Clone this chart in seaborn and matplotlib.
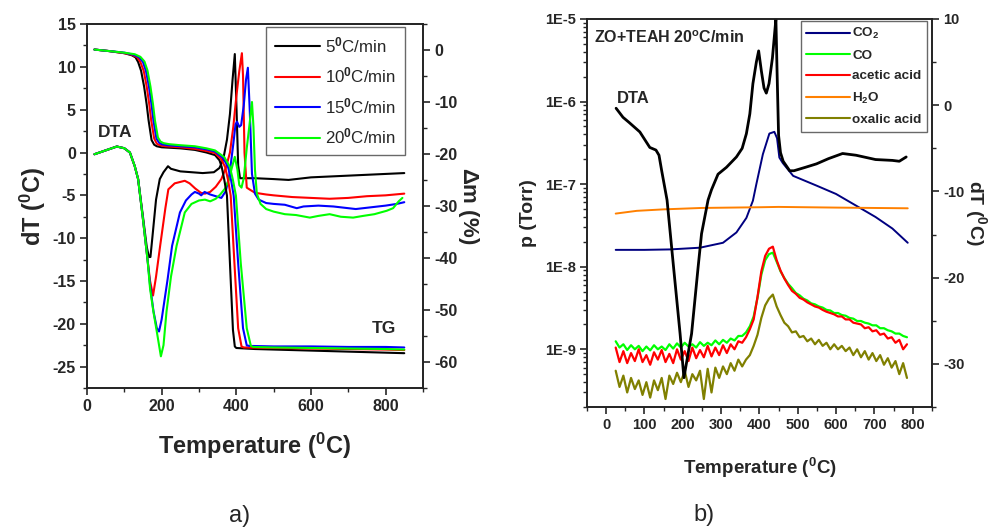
import numpy as np
import pandas as pd
import matplotlib
matplotlib.use("Agg")
import matplotlib.pyplot as plt
import seaborn as sns
from matplotlib.ticker import MultipleLocator, FixedLocator, FuncFormatter, LogLocator, NullFormatter
from matplotlib.lines import Line2D

# ---------------- Panel a data ----------------
rate_labels = [r"5$^{\mathbf{0}}$C/min", r"10$^{\mathbf{0}}$C/min",
               r"15$^{\mathbf{0}}$C/min", r"20$^{\mathbf{0}}$C/min"]
rate_colors = ["#000000", "#ff0000", "#0000ff", "#00ff00"]

# DTA (left axis, dT in C)
dta5_T = [20, 40, 60, 80, 100, 115, 128, 137, 150, 160, 166, 170, 175, 185, 195, 205, 217, 225, 250,
          280, 310, 340, 355, 365, 375, 383, 390, 396, 400, 405, 410, 450, 500, 540, 600, 650, 700, 750, 800, 850]
dta5_V = [-0.2, 0.1, 0.4, 0.7, 0.5, 0.0, -1.6, -3.1, -7.5, -11.0, -12.2, -12.2, -10.0, -5.5, -3.1, -2.3, -1.6, -1.9, -2.2,
          -2.3, -2.4, -2.3, -1.8, -0.8, 1.5, 4.5, 8.5, 11.5, 6.0, -1.5, -3.0, -3.0, -3.1, -3.2, -2.9, -2.8, -2.7, -2.6, -2.5, -2.4]

dta10_T = [20, 40, 60, 80, 100, 115, 128, 137, 150, 162, 169, 177, 185, 196, 210, 218, 235, 262, 275, 290, 305,
           316, 330, 345, 360, 372, 383, 392, 400, 408, 415, 418, 422, 428, 435, 450, 480, 500, 550, 600, 650, 700, 750, 800, 850]
dta10_V = [-0.2, 0.1, 0.4, 0.7, 0.5, 0.0, -1.6, -3.1, -7.8, -12.4, -15.0, -16.7, -14.5, -10.9, -6.5, -4.3, -3.6, -3.3, -3.6, -4.2, -4.7,
           -4.8, -4.6, -4.0, -3.1, -1.8, 0.0, 3.0, 6.5, 9.5, 11.6, 9.0, 0.0, -4.1, -4.3, -4.7, -4.9, -5.0, -5.2, -5.3, -5.4, -5.3, -5.1, -5.0, -4.8]

dta15_T = [20, 40, 60, 80, 100, 115, 128, 137, 150, 162, 169, 178, 187, 193, 200, 216, 228, 249, 265, 280, 289, 300,
           306, 315, 330, 345, 360, 372, 382, 392, 398, 402, 408, 413, 420, 426, 431, 436, 442, 450, 460, 480, 500,
           530, 562, 580, 620, 660, 700, 720, 760, 800, 830, 850]
dta15_V = [-0.2, 0.1, 0.4, 0.7, 0.5, 0.0, -1.6, -3.1, -7.8, -12.4, -15.5, -18.5, -20.5, -20.9, -19.5, -14.8, -10.9, -7.0, -5.6, -4.9, -4.6, -4.8,
           -5.0, -4.6, -4.9, -5.1, -5.3, -4.5, -2.5, 1.0, 3.3, 3.6, 3.0, 3.2, 5.5, 8.5, 9.9, 5.0, -2.5, -4.8, -5.5, -5.9, -6.0,
           -6.1, -6.5, -6.3, -6.2, -6.3, -6.5, -6.6, -6.4, -6.2, -6.0, -5.8]

dta20_T = [20, 40, 60, 80, 100, 115, 128, 137, 150, 162, 169, 178, 187, 198, 205, 213, 225, 240, 262, 280, 300, 316,
           330, 345, 357, 370, 380, 388, 396, 403, 408, 414, 420, 428, 436, 442, 446, 450, 455, 465, 480, 500, 530,
           560, 597, 620, 650, 680, 713, 740, 770, 803, 820, 835, 845]
dta20_V = [-0.2, 0.1, 0.4, 0.7, 0.5, 0.0, -1.6, -3.1, -7.8, -12.4, -15.9, -18.6, -20.9, -23.8, -22.5, -18.6, -14.5, -10.9, -7.0, -6.0, -5.6, -5.5,
           -5.7, -5.4, -4.9, -4.2, -3.2, -1.8, -0.5, -2.0, -3.8, -4.1, -3.0, 0.5, 3.5, 5.9, 3.0, -2.0, -4.8, -6.0, -6.6, -6.9, -7.2,
           -7.3, -7.6, -7.4, -7.2, -7.5, -7.6, -7.4, -7.2, -6.8, -6.5, -5.7, -5.3]

# TG (right axis, mass change %)
tg5_T = [20, 60, 100, 120, 130, 137, 145, 153, 160, 165, 173, 180, 187, 200, 250, 289, 320, 343, 355, 361, 368, 375,
         383, 391, 396, 400, 450, 500, 600, 700, 800, 850]
tg5_V = [0.1, -0.2, -0.6, -1.0, -1.4, -2.3, -4.0, -7.0, -10.5, -13.5, -17.3, -18.2, -18.5, -18.7, -18.9, -19.2, -19.7, -20.2, -21.2, -22.5, -25.0, -28.0,
         -41.0, -53.8, -57.0, -57.3, -57.5, -57.6, -57.8, -58.0, -58.2, -58.3]

tg10_T = [20, 60, 100, 120, 135, 143, 152, 160, 167, 172, 180, 187, 195, 210, 250, 289, 320, 343, 360, 370, 378, 385,
          395, 405, 414, 420, 500, 600, 700, 800, 850]
tg10_V = [0.1, -0.2, -0.6, -0.9, -1.4, -2.3, -4.0, -7.0, -10.5, -13.5, -17.0, -18.0, -18.3, -18.5, -18.7, -19.0, -19.4, -19.8, -21.0, -22.5, -25.0, -28.0,
          -41.0, -53.5, -57.0, -57.2, -57.3, -57.4, -57.5, -57.6, -57.7]

tg15_T = [20, 60, 100, 125, 140, 150, 158, 166, 173, 178, 186, 193, 200, 215, 250, 289, 320, 343, 365, 378, 386, 393,
          405, 418, 428, 435, 500, 600, 700, 800, 850]
tg15_V = [0.1, -0.2, -0.5, -0.9, -1.4, -2.3, -4.0, -7.0, -10.5, -13.5, -17.0, -17.8, -18.1, -18.3, -18.5, -18.7, -19.1, -19.5, -20.8, -22.5, -25.0, -28.0,
          -41.0, -53.5, -56.8, -56.9, -57.0, -57.0, -57.1, -57.1, -57.2]

tg20_T = [20, 60, 100, 128, 143, 154, 162, 170, 177, 182, 190, 197, 205, 220, 250, 289, 320, 343, 368, 383, 391, 399,
          412, 428, 439, 445, 500, 600, 700, 800, 850]
tg20_V = [0.1, -0.2, -0.5, -0.8, -1.3, -2.2, -3.9, -7.0, -10.5, -13.5, -16.8, -17.6, -17.9, -18.1, -18.3, -18.5, -18.9, -19.3, -20.6, -22.5, -25.0, -28.0,
          -41.0, -53.5, -56.9, -57.1, -57.2, -57.3, -57.4, -57.5, -57.6]

# ---------------- Panel b data ----------------
ms_T = [25, 35, 45, 55, 65, 75, 85, 95, 105, 115, 125, 135, 145, 155, 165, 175, 185, 195, 205, 215,
        225, 235, 245, 255, 265, 275, 285, 295, 305, 315, 325, 335, 345, 355, 365, 375, 385, 395, 405, 415,
        425, 435, 445, 455, 465, 475, 485, 495, 505, 515, 525, 535, 545, 555, 565, 575, 585, 595, 605, 615,
        625, 635, 645, 655, 665, 675, 685, 695, 705, 715, 725, 735, 745, 755, 765, 775, 785]
# partial pressures in units of 1e-9 Torr
co_nTorr = [1.25, 1.05, 1.15, 0.98, 1.12, 1.0, 1.1, 0.95, 1.08, 0.97, 1.12, 1.0, 1.08, 0.98, 1.15, 1.02, 1.18, 1.05, 1.2, 1.08,
            1.15, 1.05, 1.22, 1.1, 1.2, 1.12, 1.28, 1.15, 1.3, 1.2, 1.35, 1.28, 1.45, 1.45, 1.6, 1.9, 2.5, 4.2, 8.0, 12.0,
            14.2, 14.8, 11.5, 8.8, 7.3, 6.2, 5.5, 4.8, 4.5, 4.1, 3.9, 3.6, 3.5, 3.3, 3.2, 3.0, 2.95, 2.75, 2.75, 2.6,
            2.55, 2.4, 2.35, 2.2, 2.2, 2.1, 2.05, 1.95, 1.95, 1.8, 1.8, 1.7, 1.65, 1.55, 1.55, 1.45, 1.4]
acetic_nTorr = [1.05, 0.7, 0.95, 0.68, 0.9, 0.72, 1.0, 0.7, 0.85, 0.65, 0.92, 0.75, 0.98, 0.7, 0.88, 0.68, 1.0, 0.75, 0.95, 0.72,
                1.05, 0.78, 0.98, 0.8, 1.1, 0.82, 1.05, 0.85, 1.12, 0.9, 1.15, 1.0, 1.25, 1.2, 1.4, 1.75, 2.3, 4.3, 8.8, 13.5,
                16.5, 17.5, 12.0, 9.0, 7.2, 6.0, 5.1, 4.7, 4.2, 4.0, 3.7, 3.5, 3.3, 3.2, 3.0, 2.85, 2.75, 2.65, 2.5, 2.5,
                2.3, 2.3, 2.1, 2.05, 2.0, 1.8, 1.85, 1.65, 1.7, 1.5, 1.55, 1.35, 1.4, 1.2, 1.3, 1.0, 1.15]
oxalic_nTorr = [0.55, 0.35, 0.48, 0.3, 0.45, 0.33, 0.42, 0.28, 0.4, 0.26, 0.42, 0.32, 0.45, 0.25, 0.48, 0.38, 0.52, 0.4, 0.55, 0.35,
                0.5, 0.42, 0.55, 0.25, 0.58, 0.3, 0.6, 0.45, 0.62, 0.5, 0.68, 0.55, 0.75, 0.62, 0.75, 0.85, 1.1, 1.5, 2.4, 3.4,
                4.1, 4.6, 3.3, 2.6, 2.1, 1.9, 1.6, 1.65, 1.4, 1.45, 1.25, 1.35, 1.15, 1.3, 1.1, 1.2, 1.0, 1.15, 1.0, 1.1,
                0.95, 1.05, 0.85, 1.0, 0.8, 0.95, 0.75, 0.9, 0.72, 0.85, 0.65, 0.78, 0.6, 0.72, 0.5, 0.68, 0.45]

co2_T = [25, 100, 167, 245, 305, 340, 366, 383, 392, 409, 426, 439, 446, 452, 461, 488, 549, 600, 652, 703, 747, 787]
co2_p = [1.6e-8, 1.6e-8, 1.62e-8, 1.7e-8, 1.95e-8, 2.6e-8, 3.9e-8, 6.3e-8, 1.0e-7, 2.3e-7, 4.1e-7, 4.3e-7, 3.6e-7,
         2.1e-7, 1.8e-7, 1.26e-7, 9.6e-8, 7.6e-8, 5.5e-8, 4.0e-8, 2.9e-8, 1.95e-8]

h2o_T = [25, 80, 150, 250, 400, 450, 600, 787]
h2o_p = [4.4e-8, 4.75e-8, 4.95e-8, 5.15e-8, 5.25e-8, 5.3e-8, 5.2e-8, 5.1e-8]

dtab_T = [26, 44, 60, 88, 114, 130, 138, 145, 159, 176, 193, 203, 223, 240, 249, 266, 275, 292, 314, 340, 355, 366,
          375, 383, 392, 398, 405, 412, 418, 425, 434, 440, 443, 446, 450, 455, 462, 479, 490, 520, 549, 580, 617,
          652, 703, 747, 765, 783]
dtab_V = [-0.35, -1.4, -2.0, -3.1, -4.9, -5.2, -5.8, -7.6, -11.0, -18.8, -26.5, -31.6, -26.5, -18.8, -14.9, -11.0, -9.8, -8.0, -7.2, -6.0, -5.0, -3.3,
          -1.0, 2.5, 5.0, 6.3, 4.0, 2.0, 1.4, 2.5, 5.5, 8.5, 10.0, 4.0, -3.5, -5.5, -6.5, -7.6, -7.6, -7.2, -6.8, -6.2, -5.6,
          -5.8, -6.3, -6.4, -6.5, -6.0]

ms_labels = [r"CO$_{\mathbf{2}}$", "CO", "acetic acid", r"H$_{\mathbf{2}}$O", "oxalic acid"]
ms_colors = ["#000080", "#00ff00", "#ff0000", "#ff8000", "#808000"]

# ---------------- Style ----------------
sns.set_style("ticks")
plt.rcParams["font.family"] = ["Liberation Sans", "DejaVu Sans"]
plt.rcParams["mathtext.fontset"] = "custom"
plt.rcParams["mathtext.rm"] = "Liberation Sans"
plt.rcParams["mathtext.bf"] = "Liberation Sans:bold"
plt.rcParams["mathtext.it"] = "Liberation Sans:italic"
plt.rcParams["mathtext.default"] = "bf"
plt.rcParams["axes.unicode_minus"] = False
plt.rcParams["axes.linewidth"] = 1.2
plt.rcParams["axes.edgecolor"] = "#222222"
plt.rcParams["xtick.direction"] = "out"
plt.rcParams["ytick.direction"] = "out"

fig = plt.figure(figsize=(9.94, 5.29), dpi=100)
axA = fig.add_axes([0.0875, 0.2665, 0.338, 0.688])
axA2 = axA.twinx()
axB = fig.add_axes([0.5905, 0.2306, 0.347, 0.7335])
axB2 = axB.twinx()


def line(ax, x, y, color, lw=1.5, z=2):
    df = pd.DataFrame({"x": x, "y": y})
    sns.lineplot(data=df, x="x", y="y", ax=ax, color=color, lw=lw, estimator=None, sort=False, zorder=z)


# Panel a
dta_sets = [(dta5_T, dta5_V), (dta10_T, dta10_V), (dta15_T, dta15_V), (dta20_T, dta20_V)]
tg_sets = [(tg5_T, tg5_V), (tg10_T, tg10_V), (tg15_T, tg15_V), (tg20_T, tg20_V)]
for (t, v), c in zip(dta_sets, rate_colors):
    line(axA, t, v, c)
for (t, v), c in zip(tg_sets, rate_colors):
    line(axA2, t, v, c)

axA.set_xlim(0, 900)
axA.set_ylim(-27.5, 15)
axA2.set_ylim(-65, 5)
axA.xaxis.set_major_locator(FixedLocator([0, 200, 400, 600, 800]))
axA.xaxis.set_minor_locator(MultipleLocator(100))
axA.yaxis.set_major_locator(MultipleLocator(5))
axA.yaxis.set_minor_locator(MultipleLocator(2.5))
axA2.yaxis.set_major_locator(FixedLocator([0, -10, -20, -30, -40, -50, -60]))
axA2.yaxis.set_minor_locator(MultipleLocator(5))
for a in (axA, axA2):
    a.tick_params(which="major", length=5, width=1.2, labelsize=11.5, pad=3)
    a.tick_params(which="minor", length=3, width=1.0)
    for lab in a.get_xticklabels() + a.get_yticklabels():
        lab.set_fontweight("bold")
axA.set_xlabel(r"Temperature ($^{0}$C)", fontsize=17, fontweight="bold", labelpad=12)
axA.set_ylabel(r"dT ($^{0}$C)", fontsize=17, fontweight="bold", labelpad=3)
axA2.set_ylabel(r"$\Delta$m (%)", fontsize=16, fontweight="bold", rotation=270, labelpad=17)
axA2.set_xlabel("")
axA.text(28, 2.3, "DTA", fontsize=12.5, fontweight="bold", va="center", ha="left")
axA2.text(763, -53.5, "TG", fontsize=12.5, fontweight="bold", va="center", ha="left")

handlesA = [Line2D([0], [0], color=c, lw=1.5) for c in rate_colors]
legA = axA2.legend(handlesA, rate_labels, loc="upper right", bbox_to_anchor=(0.946, 0.992),
                   borderaxespad=0, fontsize=12.2, frameon=True, fancybox=False,
                   handlelength=2.7, handletextpad=0.3, labelspacing=0.62, borderpad=0.5)
legA.get_frame().set_edgecolor("#444444")
legA.get_frame().set_linewidth(1.0)

# Panel b
line(axB, co2_T, co2_p, ms_colors[0], lw=1.4)
line(axB, h2o_T, h2o_p, ms_colors[3], lw=1.4)
line(axB, ms_T, np.array(co_nTorr) * 1e-9, ms_colors[1], lw=1.6)
line(axB, ms_T, np.array(acetic_nTorr) * 1e-9, ms_colors[2], lw=1.6)
line(axB, ms_T, np.array(oxalic_nTorr) * 1e-9, ms_colors[4], lw=1.6)
line(axB2, dtab_T, dtab_V, "#000000", lw=2.0)

axB.set_yscale("log")
axB.set_xlim(-50, 850)
axB.set_ylim(2e-10, 1e-5)
axB2.set_ylim(-35, 10)
axB.xaxis.set_major_locator(MultipleLocator(100))
axB.xaxis.set_minor_locator(MultipleLocator(50))
axB.yaxis.set_major_locator(FixedLocator([1e-9, 1e-8, 1e-7, 1e-6, 1e-5]))
axB.yaxis.set_major_formatter(FuncFormatter(lambda v, p: "1E%d" % int(round(np.log10(v)))))
axB.yaxis.set_minor_locator(LogLocator(base=10, subs=np.arange(2, 10), numticks=20))
axB.yaxis.set_minor_formatter(NullFormatter())
axB2.yaxis.set_major_locator(FixedLocator([-30, -20, -10, 0, 10]))
axB2.yaxis.set_minor_locator(MultipleLocator(5))
for a in (axB, axB2):
    a.tick_params(which="major", length=5, width=1.2, labelsize=10.5, pad=3)
    a.tick_params(which="minor", length=3, width=1.0)
    for lab in a.get_xticklabels() + a.get_yticklabels():
        lab.set_fontweight("bold")
axB.set_xlabel(r"Temperature ($^{0}$C)", fontsize=13.5, fontweight="bold", labelpad=17)
axB.set_ylabel("p (Torr)", fontsize=14, fontweight="bold", labelpad=6)
axB2.set_ylabel(r"dT ($^{0}$C)", fontsize=14, fontweight="bold", rotation=270, labelpad=18)
axB2.set_xlabel("")
axB.text(0.02, 0.951, r"ZO+TEAH 20$^{\mathbf{o}}$C/min", transform=axB.transAxes,
         fontsize=11.5, fontweight="bold", va="center", ha="left")
axB.text(0.087, 0.796, "DTA", transform=axB.transAxes, fontsize=12, fontweight="bold",
         va="center", ha="left")

handlesB = [Line2D([0], [0], color=c, lw=1.5) for c in ms_colors]
legB = axB2.legend(handlesB, ms_labels, loc="upper right", bbox_to_anchor=(0.986, 0.995),
                   borderaxespad=0, prop={"size": 9.7, "weight": "bold"}, frameon=True, fancybox=False,
                   handlelength=3.2, handletextpad=0.2, labelspacing=0.6, borderpad=0.4)
legB.get_frame().set_edgecolor("#444444")
legB.get_frame().set_linewidth(1.0)

fig.text(0.2415, 0.0246, "a)", fontsize=17, ha="center", va="center")
fig.text(0.708, 0.0265, "b)", fontsize=17, ha="center", va="center")

fig.savefig("out.png", dpi=100)
